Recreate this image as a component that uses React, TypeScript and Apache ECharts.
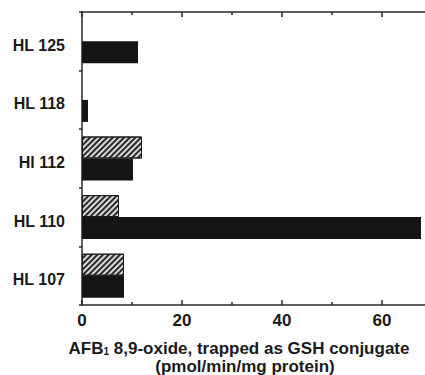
import React, { useEffect, useRef } from "react";
import * as echarts from "echarts";

const categories = ["HL 125", "HL 118", "Hl 112", "HL 110", "HL 107"];
const hatchedValues: (number | null)[] = [null, null, 12.0, 7.4, 8.4];
const blackValues = [11.2, 1.2, 10.2, 67.8, 8.4];
const xTickLabels = [0, 20, 40, 60];
const nameLine1 = "{a|AFB}{s|1}{a| 8,9-oxide, trapped as GSH conjugate}";
const nameLine2 = "(pmol/min/mg protein)";

const FONT = "'Liberation Sans', Arial, Helvetica, sans-serif";

export default function App() {
  const ref = useRef<HTMLDivElement>(null);
  useEffect(() => {
    if (!ref.current) return;
    const chart = echarts.init(ref.current, null, { renderer: "svg" });
    const axisLineStyle = { color: "#2a2a2a", width: 1.5 };
    const xCommon = {
      type: "value" as const,
      min: 0,
      max: 70,
      interval: 20,
      splitLine: { show: false },
      axisLine: { show: true, lineStyle: axisLineStyle },
      axisTick: { show: true, inside: true, length: 5, lineStyle: { color: "#2a2a2a", width: 1.5 } },
      minorTick: { show: true, splitNumber: 2, length: 3, lineStyle: { color: "#2a2a2a", width: 1.5 } },
      minorSplitLine: { show: false },
    };
    chart.setOption({
      animation: false,
      backgroundColor: "#ffffff",
      grid: { left: 82, top: 12, width: 350, height: 293, containLabel: false, outerBoundsMode: "none" },
      xAxis: [
        {
          ...xCommon,
          position: "bottom",
          axisLabel: {
            show: true,
            margin: 7,
            color: "#1a1a1a",
            fontFamily: FONT,
            fontWeight: "bold",
            fontSize: 17,
            formatter: (v: number) => (xTickLabels.includes(v) ? String(v) : ""),
          },
        },
        {
          ...xCommon,
          position: "top",
          axisLabel: { show: false },
        },
      ],
      yAxis: {
        type: "category",
        inverse: true,
        data: categories,
        axisLine: { show: true, lineStyle: axisLineStyle },
        axisTick: { show: true, inside: false, length: 3, lineStyle: { color: "#2a2a2a", width: 1.5 } },
        axisLabel: {
          margin: 17,
          formatter: (v: string) => "{l|" + v + "}",
          rich: {
            l: {
              color: "#1a1a1a",
              fontFamily: FONT,
              fontWeight: "bold",
              fontSize: 16,
              padding: [8, 0, 0, 0],
            },
          },
        },
      },
      series: [
        {
          type: "bar",
          xAxisIndex: 0,
          data: hatchedValues,
          barWidth: 22,
          barGap: "0%",
          itemStyle: {
            color: "#d8d8d8",
            borderColor: "#1a1a1a",
            borderWidth: 1,
            decal: {
              symbol: "rect",
              symbolSize: 1,
              dashArrayX: [1, 0],
              dashArrayY: [2, 2],
              rotation: -Math.PI / 4,
              color: "#2a2a2a",
            },
          },
        },
        {
          type: "bar",
          xAxisIndex: 0,
          data: blackValues,
          barWidth: 22,
          barGap: "0%",
          itemStyle: { color: "#151515" },
        },
      ],
      graphic: [
        {
          type: "text",
          x: 239,
          y: 348.5,
          style: {
            text: nameLine1,
            align: "center",
            verticalAlign: "middle",
            rich: {
              a: { fontFamily: FONT, fontWeight: "bold", fontSize: 17, fill: "#1a1a1a", lineHeight: 16 },
              s: { fontFamily: FONT, fontWeight: "bold", fontSize: 10, fill: "#1a1a1a", verticalAlign: "bottom", lineHeight: 16 },
            },
          },
        },
        {
          type: "text",
          x: 245,
          y: 366,
          style: {
            text: nameLine2,
            align: "center",
            verticalAlign: "middle",
            fontFamily: FONT,
            fontWeight: "bold",
            fontSize: 17,
            lineHeight: 16,
            fill: "#1a1a1a",
          },
        },
      ],
    });
    return () => chart.dispose();
  }, []);
  return (
    <div
      ref={ref}
      style={{ position: "fixed", left: 0, top: 0, width: 425, height: 375 }}
    />
  );
}
